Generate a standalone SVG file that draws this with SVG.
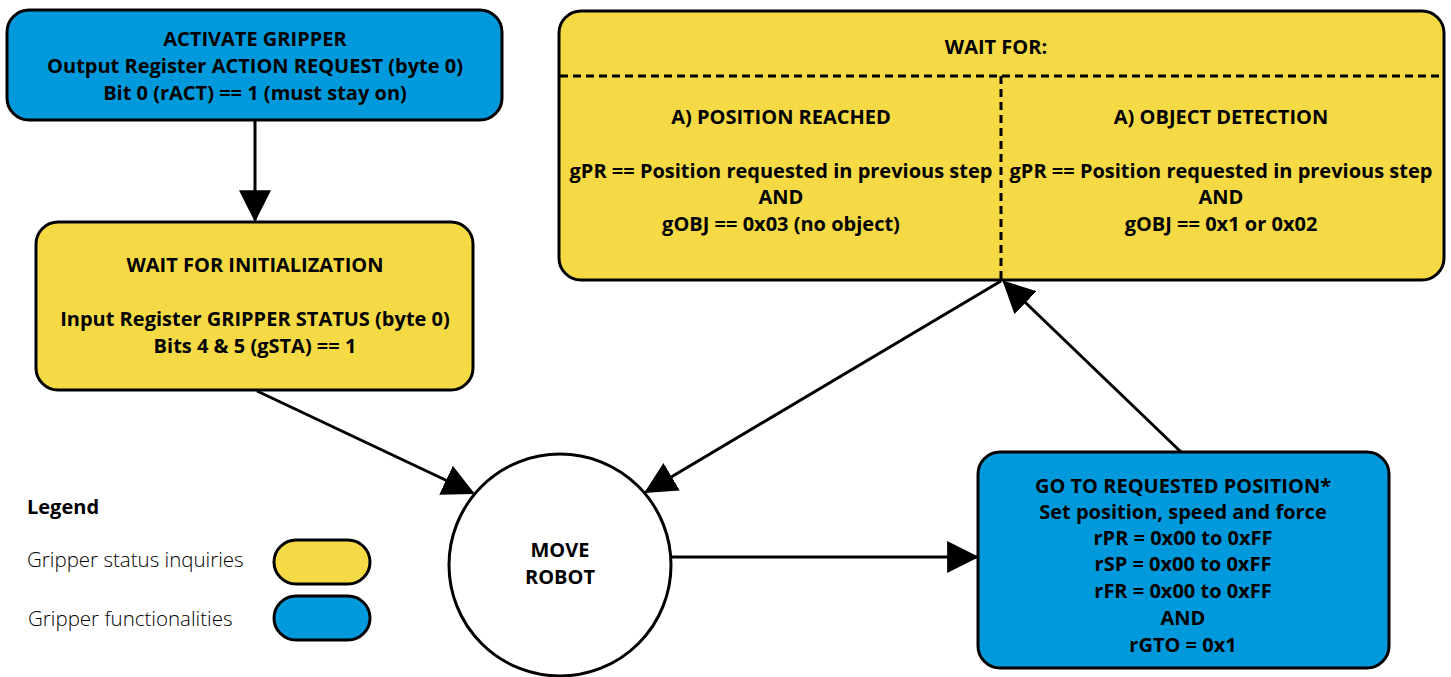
<svg xmlns="http://www.w3.org/2000/svg" width="1451" height="677" viewBox="0 0 1451 677">
<defs>
<style>
.box{stroke:#000;stroke-width:3}
.blue{fill:#0099DB}
.yellow{fill:#F5DA45}
.t{font-family:"Open Sans","Noto Sans","DejaVu Sans",sans-serif;font-weight:bold;font-size:20px;fill:#000;text-anchor:middle}
.l{font-family:"Open Sans","Noto Sans","DejaVu Sans",sans-serif;font-weight:300;font-size:20.5px;fill:#000}
.edge{stroke:#000;stroke-width:3;fill:none;marker-end:url(#ah)}
.dash{stroke:#000;stroke-width:3;stroke-dasharray:8 5;fill:none}
</style>
<marker id="ah" markerUnits="userSpaceOnUse" markerWidth="32" markerHeight="32" viewBox="0 0 30 30" refX="28" refY="15" orient="auto">
<path d="M0,0 L30,15 L0,30 Z" fill="#000"/>
</marker>
</defs>
<g id="connectors">
<line class="edge" x1="255" y1="120" x2="255" y2="220"/>
<line class="edge" x1="257" y1="391" x2="473" y2="493"/>
<line class="edge" x1="1001" y1="281" x2="646" y2="492"/>
<line class="edge" x1="1181" y1="452" x2="1004" y2="282"/>
<line class="edge" x1="672" y1="557" x2="977" y2="557"/>
</g>
<g id="activate">
<rect class="box blue" x="7" y="10" width="495" height="110" rx="22"/>
<text class="t" x="255" y="46">ACTIVATE GRIPPER</text>
<text class="t" x="255" y="73">Output Register ACTION REQUEST (byte 0)</text>
<text class="t" x="255" y="100">Bit 0 (rACT) == 1 (must stay on)</text>
</g>
<g id="init">
<rect class="box yellow" x="36" y="222" width="437" height="168" rx="22"/>
<text class="t" x="255" y="272">WAIT FOR INITIALIZATION</text>
<text class="t" x="255" y="326">Input Register GRIPPER STATUS (byte 0)</text>
<text class="t" x="255" y="353">Bits 4 &amp; 5 (gSTA) == 1</text>
</g>
<g id="waitfor">
<rect class="box yellow" x="559" y="11" width="885" height="269" rx="22"/>
<line class="dash" x1="560" y1="76" x2="1443" y2="76"/>
<line class="dash" x1="1001" y1="76" x2="1001" y2="279"/>
<text class="t" x="996" y="54">WAIT FOR:</text>
<text class="t" x="781" y="124">A) POSITION REACHED</text>
<text class="t" x="781" y="178">gPR == Position requested in previous step</text>
<text class="t" x="781" y="204">AND</text>
<text class="t" x="781" y="231">gOBJ == 0x03 (no object)</text>
<text class="t" x="1221" y="124">A) OBJECT DETECTION</text>
<text class="t" x="1221" y="178">gPR == Position requested in previous step</text>
<text class="t" x="1221" y="204">AND</text>
<text class="t" x="1221" y="231">gOBJ == 0x1 or 0x02</text>
</g>
<g id="move">
<circle cx="560" cy="565" r="111" fill="#fff" stroke="#000" stroke-width="3"/>
<text class="t" x="560" y="557">MOVE</text>
<text class="t" x="560" y="584">ROBOT</text>
</g>
<g id="goto">
<rect class="box blue" x="978" y="452" width="411" height="216" rx="22"/>
<text class="t" x="1183" y="493">GO TO REQUESTED POSITION*</text>
<text class="t" x="1183" y="519">Set position, speed and force</text>
<text class="t" x="1183" y="545">rPR = 0x00 to 0xFF</text>
<text class="t" x="1183" y="571">rSP = 0x00 to 0xFF</text>
<text class="t" x="1183" y="598">rFR = 0x00 to 0xFF</text>
<text class="t" x="1183" y="625">AND</text>
<text class="t" x="1183" y="652">rGTO = 0x1</text>
</g>
<g id="legend">
<text class="t" x="27" y="514" style="text-anchor:start">Legend</text>
<text class="l" x="27" y="567">Gripper status inquiries</text>
<rect class="box yellow" x="274" y="540" width="96" height="44" rx="22"/>
<text class="l" x="28" y="626">Gripper functionalities</text>
<rect class="box blue" x="274" y="596" width="96" height="44" rx="22"/>
</g>
</svg>
